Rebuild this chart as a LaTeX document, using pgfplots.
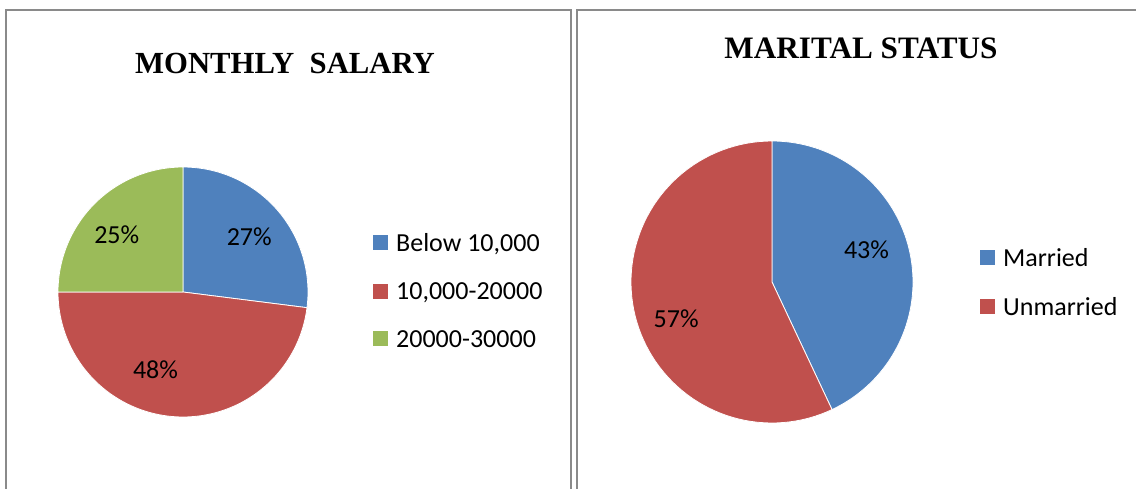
\documentclass[border=0pt]{standalone}
\usepackage{pgfplots}
\pgfplotsset{compat=1.18}
\usepackage{fontspec}
\setmainfont{Carlito}
\newfontfamily\titlefont{Liberation Serif}
\definecolor{pblue}{HTML}{4F81BD}
\definecolor{pred}{HTML}{C0504D}
\definecolor{pgreen}{HTML}{9BBB59}
\definecolor{frame}{HTML}{8A8A8A}

% data (percent)
\def\salA{27}\def\salB{48}\def\salC{25}
\def\marA{43}\def\marB{57}

\pgfplotsset{
  pieaxis/.style={
    hide axis, clip=false,
    xmin=-1, xmax=1, ymin=-1, ymax=1,
    legend cell align=left,
    legend image code/.code={\fill[##1, draw=none] (0pt,-7.5pt) rectangle (15pt,7.5pt);},
    legend style={draw=none, fill=none, inner sep=0pt,
      font=\fontsize{26}{30}\selectfont, row sep=31pt,
      /tikz/every odd column/.append style={column sep=8pt},
      nodes={inner sep=0pt, outer sep=0pt, text depth=0pt}},
  },
  slice/.style={draw=white, line width=0.8pt, samples=80},
}

\begin{document}
\begin{tikzpicture}[x=1pt,y=1pt]
\path[use as bounding box] (0,0) rectangle (1136,488);
\draw[frame, line width=2.2pt] (6,-2) -- (6,477.8) -- (571,477.8) -- (571,-2);
\draw[frame, line width=2.2pt] (577,-2) -- (577,477.8) -- (1140,477.8);

\node[anchor=base, font=\titlefont\bfseries\fontsize{30.7}{32}\selectfont] at (285,414) {MONTHLY\ \ SALARY};
\node[anchor=base, font=\titlefont\bfseries\fontsize{31.2}{32}\selectfont] at (861,429) {MARITAL STATUS};

% ---------------- left pie
\pgfmathsetmacro{\aA}{90-3.6*\salA}
\pgfmathsetmacro{\aB}{\aA-3.6*\salB}
\pgfmathsetmacro{\aC}{\aB-3.6*\salC}
\begin{axis}[pieaxis, at={(183pt,196pt)}, anchor=center, x=125pt, y=125pt,
  legend style={at={(1.26,0.506)}, anchor=west}]
\addplot[slice, fill=pblue, domain=\aA:90] ({cos(x)},{sin(x)}) -- (0,0) -- cycle;
\addlegendentry{Below 10,000}
\addplot[slice, fill=pred, domain=\aB:\aA] ({cos(x)},{sin(x)}) -- (0,0) -- cycle;
\addlegendentry{10,000-20000}
\addplot[slice, fill=pgreen, domain=\aC:\aB] ({cos(x)},{sin(x)}) -- (0,0) -- cycle;
\addlegendentry{20000-30000}
\node[font=\fontsize{26}{30}\selectfont] at (axis cs:0.53,0.44) {\salA\%};
\node[font=\fontsize{26}{30}\selectfont] at (axis cs:-0.22,-0.62) {\salB\%};
\node[font=\fontsize{26}{30}\selectfont] at (axis cs:-0.53,0.46) {\salC\%};
\end{axis}

% ---------------- right pie
\pgfmathsetmacro{\bA}{90-3.6*\marA}
\pgfmathsetmacro{\bB}{\bA-3.6*\marB}
\begin{axis}[pieaxis, at={(772pt,206pt)}, anchor=center, x=141pt, y=141pt,
  legend style={at={(1.2376,0.5)}, anchor=west}]
\addplot[slice, fill=pblue, domain=\bA:90] ({cos(x)},{sin(x)}) -- (0,0) -- cycle;
\addlegendentry{Married}
\addplot[slice, fill=pred, domain=\bB:\bA] ({cos(x)},{sin(x)}) -- (0,0) -- cycle;
\addlegendentry{Unmarried}
\node[font=\fontsize{26}{30}\selectfont] at (axis cs:0.67,0.23) {\marA\%};
\node[font=\fontsize{26}{30}\selectfont] at (axis cs:-0.68,-0.26) {\marB\%};
\end{axis}
\end{tikzpicture}
\end{document}
